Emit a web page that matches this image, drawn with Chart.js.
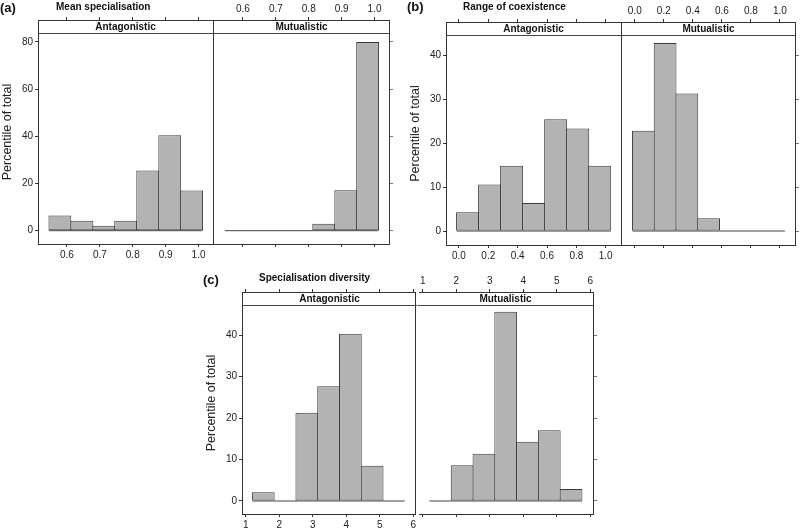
<!DOCTYPE html>
<html>
<head>
<meta charset="utf-8">
<script src="https://cdn.jsdelivr.net/npm/chart.js@4.4.1/dist/chart.umd.min.js"></script>
<style>
body{margin:0;background:#fff;}
#fig{position:relative;width:800px;height:529px;font-family:"Liberation Sans",Arial,sans-serif;color:#111;}
#fig canvas,.lab,.strip{position:absolute;}
.lab{font-weight:bold;font-size:10px;white-space:nowrap;line-height:1;}
.tag{font-size:13px;}
.strip{box-sizing:border-box;border-bottom:1px solid #444;text-align:center;font-weight:bold;font-size:10px;line-height:13px;}
</style>
</head>
<body>
<div id="fig"></div>
<script>
// (a) mean specialisation
const edgesA = [0.545, 0.612, 0.679, 0.745, 0.812, 0.879, 0.946, 1.012];
const antA = [6.4, 4.2, 2.1, 4.2, 25.5, 40.4, 17.0];
const mutA = [0, 0, 0, 0, 2.9, 17.1, 80.0];
const xTicksA = [0.6, 0.7, 0.8, 0.9, 1.0];
const yTicksA = [0, 20, 40, 60, 80];

// (b) range of coexistence
const edgesB = [-0.016, 0.134, 0.284, 0.434, 0.584, 0.734, 0.884, 1.034];
const antB = [4.3, 10.6, 14.9, 6.4, 25.5, 23.4, 14.9];
const mutB = [22.9, 42.9, 31.4, 2.9, 0, 0, 0];
const xTicksB = [0.0, 0.2, 0.4, 0.6, 0.8, 1.0];
const yTicksB = [0, 10, 20, 30, 40];

// (c) specialisation diversity
const edgesC = [1.2, 1.85, 2.5, 3.15, 3.8, 4.45, 5.1, 5.75];
const antC = [2.1, 0, 21.3, 27.7, 40.4, 8.5, 0];
const mutC = [0, 8.6, 11.4, 45.7, 14.3, 17.1, 2.9];
const xTicksC = [1, 2, 3, 4, 5, 6];
const yTicksC = [0, 10, 20, 30, 40];

const groups = ["Antagonistic", "Mutualistic"];

const panels = [
  {tag:"(a)", title:"Mean specialisation", tagX:0, tagY:1, titleX:56, titleY:2,
   left:38, divider:213, right:389, top:20, bottom:244,
   xMin:0.512, xMax:1.044, yMin:-5.64, yMax:89.3,
   edges:edgesA, ant:antA, mut:mutA, xTicks:xTicksA, yTicks:yTicksA, fmt:v => v.toFixed(1)},
  {tag:"(b)", title:"Range of coexistence", tagX:407, tagY:0, titleX:463, titleY:2,
   left:446, divider:621, right:795, top:22, bottom:245,
   xMin:-0.088, xMax:1.104, yMin:-3.19, yMax:47.7,
   edges:edgesB, ant:antB, mut:mutB, xTicks:xTicksB, yTicks:yTicksB, fmt:v => v.toFixed(1)},
  {tag:"(c)", title:"Specialisation diversity", tagX:203, tagY:273, titleX:259, titleY:273,
   left:242, divider:417, right:593, top:292, bottom:514,
   xMin:0.89, xMax:6.08, yMin:-3.14, yMax:50.45,
   edges:edgesC, ant:antC, mut:mutC, xTicks:xTicksC, yTicks:yTicksC, fmt:v => String(v)}
];

const fig = document.getElementById("fig");
const ink = "#333";
const tickFont = {family:"Liberation Sans", size:10};

function label(text, x, y, cls) {
  const d = document.createElement("div");
  d.className = cls;
  d.textContent = text;
  d.style.left = x + "px";
  d.style.top = y + "px";
  fig.appendChild(d);
}

function half(p, ant) {
  const vals = ant ? p.ant : p.mut;
  const areaL = ant ? p.left : p.divider + 1;
  const areaR = ant ? p.divider : p.right;
  const leftW = ant ? 38 : 0, rightW = ant ? 1 : 7;
  const topH = 20, botH = 24;

  const cv = document.createElement("canvas");
  cv.width = leftW + (areaR - areaL) + rightW;
  cv.height = topH + (p.bottom - p.top) + botH;
  cv.style.left = (areaL - leftW) + "px";
  cv.style.top = (p.top - topH) + "px";
  fig.appendChild(cv);

  const setTicks = arr => s => { s.ticks = arr.map(v => ({value: v})); };
  const grid = {display:true, drawOnChartArea:false, drawTicks:true, tickLength:3, color:ink, offset:false};
  const xAxis = (pos, show, h) => ({
    type:"linear", position:pos, min:p.xMin, max:p.xMax, offset:false,
    grid:grid, border:{display:true, color:ink},
    ticks:{display:show, autoSkip:false, maxRotation:0, padding:2, font:tickFont, color:"#222", callback:p.fmt},
    afterBuildTicks:setTicks(p.xTicks),
    afterFit:s => { s.height = h; }
  });

  const scales = {
    x: xAxis("bottom", ant, botH),
    x2: xAxis("top", !ant, topH),
    y: {
      type:"linear", position: ant ? "left" : "right", min:p.yMin, max:p.yMax,
      grid:{display:true, drawOnChartArea:false, drawTicks:true, tickLength: ant ? 3 : 4, color: ant ? ink : "#777"},
      border:{display:true, color:ink},
      ticks:{display:ant, padding:2, font:tickFont, color:"#222"},
      title:{display:ant, text:"Percentile of total", padding:0, color:"#222",
             font:{family:"Liberation Sans", size:12.5}},
      afterBuildTicks:setTicks(p.yTicks),
      afterFit:s => { s.width = ant ? leftW : rightW; }
    }
  };
  if (ant) {
    scales.yR = {
      type:"linear", position:"right", min:p.yMin, max:p.yMax,
      grid:{display:false}, ticks:{display:false},
      border:{display:true, color:ink},
      afterFit:s => { s.width = rightW; }
    };
  }

  const centres = vals.map((v, i) => (p.edges[i] + p.edges[i + 1]) / 2);
  new Chart(cv, {
    type:"bar",
    data:{
      datasets:[
        {type:"bar", data:centres.map((c, i) => ({x:c, y:vals[i]})),
         backgroundColor:"#b3b3b3", borderColor:"#3a3a3a", borderWidth:1, borderSkipped:false,
         barPercentage:1.045, categoryPercentage:1, inflateAmount:0,
         xAxisID:"x", yAxisID:"y", order:1},
        {type:"line", data:[{x:p.edges[0], y:0}, {x:p.edges[p.edges.length - 1], y:0}],
         borderColor:"#444", borderWidth:1, pointRadius:0,
         xAxisID:"x", yAxisID:"y", order:2}
      ]
    },
    options:{
      responsive:false, animation:false, devicePixelRatio:1, events:[],
      layout:{padding:0},
      plugins:{legend:{display:false}, tooltip:{enabled:false}},
      scales:scales
    }
  });

  const st = document.createElement("div");
  st.className = "strip";
  st.textContent = ant ? groups[0] : groups[1];
  st.style.left = areaL + "px";
  st.style.top = p.top + "px";
  st.style.width = (areaR - areaL) + "px";
  st.style.height = "14px";
  fig.appendChild(st);
}

panels.forEach(p => {
  half(p, true);
  half(p, false);
  label(p.tag, p.tagX, p.tagY, "lab tag");
  label(p.title, p.titleX, p.titleY, "lab");
});
</script>
</body>
</html>
